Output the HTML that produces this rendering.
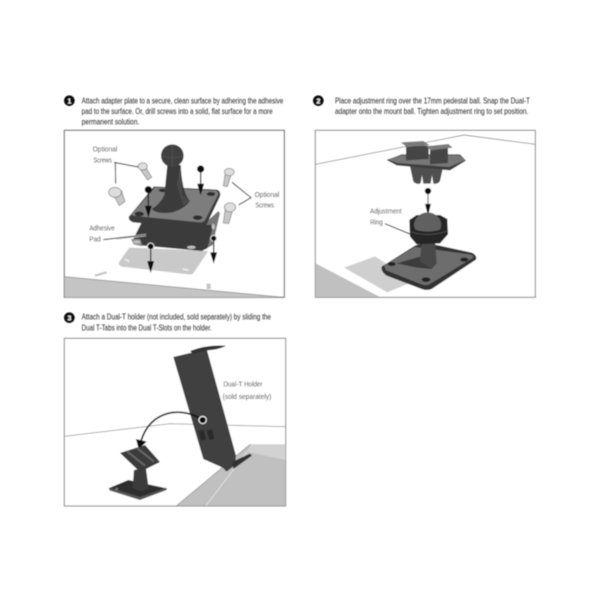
<!DOCTYPE html>
<html><head><meta charset="utf-8"><style>
html,body{margin:0;padding:0;background:#fff;width:600px;height:600px;overflow:hidden}
svg{display:block}
text{font-family:"Liberation Sans Narrow","Liberation Sans",sans-serif;fill:#222;font-size:24px}
.l{fill:#3a3a3a;font-size:23px}
</style></head><body>
<svg width="600" height="600" viewBox="0 0 600 600" xmlns="http://www.w3.org/2000/svg">
<defs><filter id="b" x="-5%" y="-5%" width="110%" height="110%"><feGaussianBlur stdDeviation="0.5"/></filter></defs>
<g filter="url(#b)">

<!-- PANEL 1 -->
<g transform="translate(50,85) scale(.3333)">
<circle cx="58" cy="47" r="16" fill="#111"/><text x="52" y="55" style="fill:#fff;font-size:22px;font-weight:bold">1</text>
<text x="95" y="55" textLength="605" lengthAdjust="spacingAndGlyphs">Attach adapter plate to a secure, clean surface by adhering the adhesive</text>
<text x="95" y="87" textLength="573" lengthAdjust="spacingAndGlyphs">pad to the surface. Or, drill screws into a solid, flat surface for a more</text>
<text x="95" y="119" textLength="173" lengthAdjust="spacingAndGlyphs">permanent solution.</text>
<rect x="43" y="136" width="660" height="501" fill="#fff" stroke="#777" stroke-width="3.5"/>
<path d="M44 575L702 637H44Z" fill="#c4c4c4"/>
<path d="M44 575L702 637" fill="none" stroke="#777" stroke-width="2"/>
<path d="M135 572L170 562" stroke="#c4c4c4" stroke-width="7"/><path d="M476 596V612" stroke="#c4c4c4" stroke-width="12"/>
<path d="M238 488L475 498L432 562Q428 570 415 568L215 545Q203 540 208 530Z" fill="#c9c9c9"/>
<path d="M224 522L238 530M398 552L415 556" stroke="#f4f4f4" stroke-width="4"/>
<!-- right flange -->
<path d="M470 410L505 378L510 385L488 480L470 490Z" fill="#777"/>
<!-- lower pad -->
<path d="M276 410L250 462L250 476L280 482L455 498L472 490L490 420Z" fill="#3a3a3a"/>
<path d="M243 462L250 478L278 484L270 462Z" fill="#8a8a8a"/>
<ellipse cx="260" cy="471" rx="12" ry="5" fill="#bbb"/><ellipse cx="424" cy="487" rx="13" ry="5" fill="#bbb"/><ellipse cx="490" cy="425" rx="5" ry="9" fill="#bbb"/>
<!-- plate -->
<path d="M236 396L312 304L500 314Q514 318 510 334L472 414Q466 432 450 430L250 412Q236 408 236 396Z" fill="#3a3a3a"/>
<path d="M244 388L316 306L498 317Q507 322 504 330L468 400Q462 414 448 412L256 393Q246 392 244 388Z" fill="#7d7d7d"/>
<ellipse cx="268" cy="387" rx="14" ry="7" fill="#2d2d2d"/><ellipse cx="338" cy="316" rx="12" ry="5" fill="#2d2d2d"/><ellipse cx="483" cy="327" rx="13" ry="6" fill="#2d2d2d"/><ellipse cx="443" cy="398" rx="14" ry="7" fill="#2d2d2d"/>
<!-- ball stem -->
<path d="M352 240L343 330Q330 358 305 372Q320 388 362 383Q400 375 420 348Q397 325 392 240Z" fill="#3a3a3a"/>
<path d="M392 240L397 330L420 348L400 362L380 300Z" fill="#4a4a4a"/>
<circle cx="367" cy="212" r="34" fill="#404040"/>
<path d="M367 179V246M334 212Q367 225 401 212" stroke="#5c5c5c" stroke-width="1.5" fill="none"/>
<!-- screws -->
<g fill="#c8c8c8" stroke="#777" stroke-width="2"><path d="M270 252L286 245L305 277L293 285Z"/><ellipse cx="278" cy="244" rx="14" ry="11" fill="#ddd"/>
<path d="M190 330L215 318L225 350L208 362Z"/><ellipse cx="195" cy="322" rx="19" ry="15" fill="#ddd"/>
<path d="M526 262L544 268L532 305L520 303Z"/><ellipse cx="538" cy="261" rx="15" ry="11" fill="#ddd"/>
<path d="M526 370L548 376L536 416L520 414Z"/><ellipse cx="540" cy="367" rx="17" ry="14" fill="#ddd"/></g>
<!-- leader lines -->
<path d="M192 232L265 246M196 232L197 296M546 292L603 338L566 360" fill="none" stroke="#222" stroke-width="3"/>
<path d="M200 461L288 450" stroke="#ddd" stroke-width="7"/><path d="M160 464L288 450" stroke="#222" stroke-width="3"/>
<!-- arrows -->
<g stroke="#111" stroke-width="3.5" fill="#111"><circle cx="452" cy="252" r="9"/><path d="M452 252V315"/><path d="M444 298H460L452 325Z"/>
<circle cx="295" cy="314" r="9"/><path d="M295 314V380"/><path d="M287 364H303L295 392Z"/>
<circle cx="491" cy="460" r="9" stroke="#ddd" stroke-width="3"/><path d="M491 460V520"/><path d="M483 504H499L491 530Z"/>
<circle cx="302" cy="484" r="10" stroke="#ddd" stroke-width="3"/><path d="M302 484V548"/><path d="M294 530H310L302 558Z"/></g>
<text class="l" x="128" y="200" textLength="74" lengthAdjust="spacingAndGlyphs">Optional</text>
<text class="l" x="130" y="233" textLength="56" lengthAdjust="spacingAndGlyphs">Screws</text>
<text class="l" x="614" y="336" textLength="74" lengthAdjust="spacingAndGlyphs">Optional</text>
<text class="l" x="616" y="368" textLength="56" lengthAdjust="spacingAndGlyphs">Screws</text>
<text class="l" x="118" y="437" textLength="76" lengthAdjust="spacingAndGlyphs">Adhesive</text>
<text class="l" x="118" y="470" textLength="34" lengthAdjust="spacingAndGlyphs">Pad</text>
</g>

<!-- PANEL 2 -->
<g transform="translate(300,85) scale(.3333)">
<circle cx="55" cy="47" r="16" fill="#111"/><text x="49" y="55" style="fill:#fff;font-size:22px;font-weight:bold">2</text>
<text x="105" y="55" textLength="585" lengthAdjust="spacingAndGlyphs">Place adjustment ring over the 17mm pedestal ball. Snap the Dual-T</text>
<text x="105" y="87" textLength="580" lengthAdjust="spacingAndGlyphs">adapter onto the mount ball. Tighten adjustment ring to set position.</text>
<rect x="46" y="136" width="660" height="501" fill="#fff" stroke="#888" stroke-width="3"/>
<path d="M47 238L492 150L706 178" fill="none" stroke="#666" stroke-width="2"/>
<path d="M47 535L240 636H47Z" fill="#c0c0c0"/>
<path d="M132 548L225 514L340 590L262 622Z" fill="#cfcfcf"/>
<!-- adapter legs -->
<path d="M328 235L340 290Q350 300 362 295L366 270L370 296H392L396 270L400 296Q415 298 420 288L432 235Z" fill="#505050"/>
<!-- adapter plate -->
<path d="M260 225L305 208H480L498 227L450 256L290 241Z" fill="#3e3e3e"/>
<path d="M262 223L305 211H478L496 225L448 246L292 234Z" fill="#777"/>
<path d="M318 182V226L386 222V182Z" fill="#444"/><path d="M303 172L370 168L388 180L320 186Z" fill="#7a7a7a"/>
<path d="M390 190V238L444 234V186Z" fill="#444"/><path d="M378 184L445 177L458 188L392 196Z" fill="#7a7a7a"/>
<!-- arrow -->
<g stroke="#111" stroke-width="3" fill="#111"><circle cx="384" cy="318" r="8"/><path d="M384 318V370"/><path d="M377 358H391L384 386Z"/></g>
<!-- base -->
<path d="M245 545L345 482Q370 472 400 478L515 503Q532 510 528 524L395 612Q380 618 365 612L260 572Q242 560 245 545Z" fill="#333"/>
<path d="M252 541L345 486L510 508Q522 512 520 518L392 596Q380 604 365 598L258 556Z" fill="#6d6d6d"/>
<ellipse cx="275" cy="537" rx="12" ry="6" fill="#222"/><ellipse cx="493" cy="524" rx="12" ry="6" fill="#222"/><ellipse cx="378" cy="584" rx="13" ry="7" fill="#222"/>
<path d="M290 535L360 515L395 552L350 548Z" fill="#3b3b3b"/>
<path d="M365 470L360 530L395 552L410 535L405 465Z" fill="#484848"/>
<!-- ring -->
<path d="M328 405L350 390H420L442 402L444 448L420 475L350 478L330 455Z" fill="#262626"/>
<path d="M342 422A41 40 0 0 1 424 422L420 434Q383 446 346 434Z" fill="#606060"/>
<path d="M330 440Q385 458 444 438" stroke="#555" stroke-width="2" fill="none"/>
<path d="M255 416L330 447" stroke="#222" stroke-width="3"/>
<text class="l" x="210" y="385" textLength="95" lengthAdjust="spacingAndGlyphs">Adjustment</text>
<text class="l" x="210" y="418" textLength="38" lengthAdjust="spacingAndGlyphs">Ring</text>
</g>

<!-- PANEL 3 -->
<g transform="translate(50,305) scale(.3333)">
<circle cx="58" cy="38" r="16" fill="#111"/><text x="52" y="46" style="fill:#fff;font-size:22px;font-weight:bold">3</text>
<text x="95" y="44" textLength="568" lengthAdjust="spacingAndGlyphs">Attach a Dual-T holder (not included, sold separately) by sliding the</text>
<text x="95" y="76" textLength="390" lengthAdjust="spacingAndGlyphs">Dual T-Tabs into the Dual T-Slots on the holder.</text>
<rect x="43" y="100" width="664" height="503" fill="#fff" stroke="#888" stroke-width="3"/>
<path d="M44 394L360 356L706 365" fill="none" stroke="#777" stroke-width="2"/>
<path d="M380 602L600 418H706V602Z" fill="#c0c0c0"/>
<path d="M468 602L608 418" stroke="#eee" stroke-width="2"/>
<path d="M608 418H706V465L590 440Z" fill="#d2d2d2"/>
<path d="M380 602L600 418" stroke="#888" stroke-width="2"/>
<!-- holder -->
<path d="M370 156L470 132L558 452L555 480L530 500L518 488L460 462Z" fill="#404040"/>
<path d="M420 138Q470 118 528 122Q510 134 470 136L430 146Z" fill="#333"/>
<path d="M548 470L600 446L606 452L550 492Z" fill="#333"/>
<rect x="449" y="376" width="16" height="30" fill="#2a2a2a" transform="rotate(-14 457 391)"/><rect x="474" y="374" width="16" height="30" fill="#2a2a2a" transform="rotate(-14 482 389)"/>
<!-- curve arrow -->
<path d="M458 345C400 305 300 310 272 412" fill="none" stroke="#111" stroke-width="5"/>
<path d="M258 402L290 410L266 432Z" fill="#111"/>
<circle cx="458" cy="345" r="11" fill="#111" stroke="#fff" stroke-width="3"/>
<!-- mount -->
<path d="M175 550L235 525L350 550L270 580Z" fill="#2e2e2e"/>
<path d="M178 556L270 585L350 555V548L270 576L178 548Z" fill="#555"/>
<circle cx="200" cy="552" r="4" fill="#777"/>
<path d="M252 495L248 548Q270 565 296 550L288 490Z" fill="#3a3a3a"/>
<path d="M210 444L285 420L330 471L270 501Z" fill="#3b3b3b"/>
<path d="M232 440L285 482M262 430L312 470" stroke="#666" stroke-width="6" fill="none"/>
<text class="l" x="520" y="245" textLength="118" lengthAdjust="spacingAndGlyphs">Dual-T Holder</text>
<text class="l" x="518" y="282" textLength="146" lengthAdjust="spacingAndGlyphs">(sold separately)</text>
</g>
</g>
</svg>
</body></html>
